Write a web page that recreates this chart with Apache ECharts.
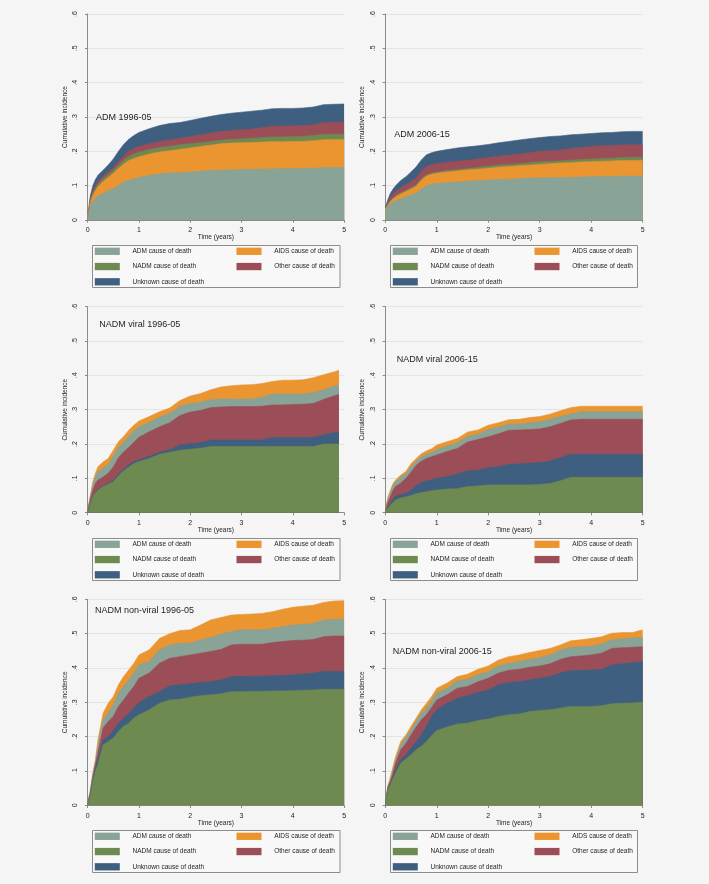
<!DOCTYPE html>
<html>
<head>
<meta charset="utf-8">
<script src="https://cdn.jsdelivr.net/npm/echarts@6/dist/echarts.min.js"></script>
<style>
  html, body { margin: 0; padding: 0; background: #f5f5f5; }
  #chart { width: 709px; height: 884px; }
</style>
</head>
<body>
<div id="chart"></div>
<script>
// ---------- DATA (cumulative incidence; each array = upper edge of that cause's band in the stack) ----------
const T   = [0,0.05,0.1,0.15,0.2,0.3,0.4,0.5,0.6,0.7,0.8,0.9,1.0,1.2,1.4,1.6,1.8,2.0,2.2,2.4,2.6,2.8,3.0,3.2,3.4,3.6,3.8,4.0,4.2,4.4,4.6,4.8,5.0];
const T_C = [0,0.05,0.1,0.15,0.2,0.3,0.4,0.5,0.6,0.7,0.8,0.9,1.0,1.2,1.4,1.6,1.8,2.0,2.2,2.4,2.6,2.8,3.0,3.2,3.4,3.6,3.8,4.0,4.2,4.4,4.6,4.8,4.9];

const causeNames = ['ADM cause of death','AIDS cause of death','NADM cause of death','Other cause of death','Unknown cause of death'];

// Panel A: ADM 1996-05 (stack bottom->top: ADM, AIDS, NADM, Other, Unknown)
const A_adm   = [0.01,0.04,0.055,0.063,0.07,0.078,0.086,0.092,0.101,0.11,0.116,0.12,0.124,0.13,0.134,0.137,0.138,0.14,0.142,0.144,0.145,0.146,0.147,0.148,0.148,0.149,0.149,0.15,0.15,0.151,0.152,0.153,0.153];
const A_aids  = [0.01,0.05,0.072,0.085,0.097,0.112,0.124,0.136,0.15,0.163,0.173,0.179,0.184,0.192,0.198,0.202,0.206,0.21,0.214,0.218,0.222,0.224,0.225,0.226,0.227,0.228,0.228,0.229,0.229,0.231,0.234,0.234,0.234];
const A_nadm  = [0.01,0.055,0.078,0.092,0.104,0.12,0.132,0.144,0.16,0.174,0.185,0.192,0.197,0.205,0.211,0.215,0.219,0.222,0.225,0.229,0.232,0.235,0.236,0.238,0.24,0.242,0.242,0.243,0.244,0.246,0.25,0.25,0.25];
const A_other = [0.01,0.06,0.085,0.1,0.112,0.128,0.14,0.152,0.17,0.186,0.2,0.208,0.214,0.222,0.229,0.233,0.238,0.243,0.248,0.254,0.258,0.261,0.263,0.265,0.269,0.273,0.274,0.274,0.275,0.277,0.284,0.285,0.285];
const A_unk   = [0.01,0.07,0.1,0.118,0.13,0.145,0.16,0.178,0.2,0.22,0.235,0.246,0.255,0.266,0.275,0.281,0.284,0.29,0.296,0.302,0.307,0.311,0.314,0.317,0.32,0.324,0.325,0.325,0.326,0.329,0.336,0.337,0.338];

// Panel B: ADM 2006-15
const B_adm   = [0.03,0.04,0.047,0.052,0.056,0.062,0.068,0.073,0.078,0.09,0.1,0.104,0.106,0.109,0.111,0.113,0.115,0.116,0.118,0.119,0.12,0.122,0.123,0.123,0.124,0.124,0.125,0.126,0.127,0.127,0.128,0.128,0.128];
const B_aids  = [0.031,0.044,0.054,0.061,0.067,0.076,0.083,0.09,0.098,0.116,0.128,0.133,0.136,0.14,0.143,0.146,0.148,0.151,0.154,0.156,0.158,0.16,0.162,0.164,0.166,0.167,0.169,0.17,0.171,0.172,0.173,0.173,0.173];
const B_nadm  = [0.032,0.046,0.057,0.064,0.07,0.079,0.086,0.094,0.102,0.12,0.132,0.137,0.14,0.144,0.147,0.15,0.153,0.157,0.16,0.162,0.164,0.167,0.17,0.171,0.172,0.174,0.176,0.178,0.179,0.18,0.182,0.183,0.183];
const B_other = [0.033,0.052,0.066,0.075,0.083,0.094,0.103,0.112,0.122,0.142,0.156,0.161,0.164,0.168,0.171,0.174,0.178,0.182,0.186,0.189,0.192,0.196,0.2,0.202,0.204,0.208,0.211,0.214,0.216,0.217,0.219,0.219,0.219];
const B_unk   = [0.035,0.06,0.078,0.09,0.1,0.115,0.126,0.14,0.155,0.175,0.19,0.196,0.2,0.205,0.21,0.213,0.216,0.22,0.225,0.229,0.233,0.237,0.24,0.243,0.245,0.248,0.25,0.252,0.254,0.255,0.257,0.258,0.258];

// Panel C: NADM viral 1996-05 (stack bottom->top: NADM, Unknown, Other, ADM, AIDS)
const C_nadm  = [0.005,0.027,0.047,0.058,0.066,0.076,0.083,0.09,0.108,0.122,0.133,0.143,0.149,0.158,0.17,0.176,0.182,0.185,0.188,0.193,0.193,0.193,0.193,0.193,0.193,0.193,0.193,0.193,0.193,0.193,0.2,0.2,0.2];
const C_unk   = [0.005,0.027,0.048,0.06,0.068,0.078,0.086,0.094,0.113,0.128,0.139,0.149,0.154,0.164,0.176,0.183,0.198,0.201,0.204,0.212,0.212,0.212,0.212,0.212,0.212,0.219,0.219,0.219,0.219,0.219,0.227,0.233,0.233];
const C_other = [0.006,0.04,0.066,0.085,0.095,0.104,0.115,0.133,0.16,0.177,0.19,0.205,0.22,0.236,0.25,0.262,0.283,0.293,0.298,0.306,0.308,0.309,0.309,0.309,0.31,0.314,0.314,0.315,0.316,0.318,0.33,0.34,0.345];
const C_adm   = [0.006,0.045,0.08,0.105,0.119,0.13,0.14,0.165,0.19,0.206,0.222,0.238,0.25,0.263,0.279,0.29,0.31,0.318,0.322,0.33,0.331,0.331,0.331,0.331,0.336,0.346,0.346,0.346,0.346,0.35,0.358,0.368,0.372];
const C_aids  = [0.006,0.05,0.09,0.115,0.134,0.148,0.158,0.182,0.207,0.222,0.24,0.255,0.267,0.28,0.294,0.305,0.327,0.34,0.347,0.358,0.366,0.37,0.372,0.373,0.376,0.382,0.386,0.386,0.387,0.393,0.402,0.41,0.415];

// Panel D: NADM viral 2006-15
const D_nadm  = [0.005,0.014,0.022,0.03,0.037,0.043,0.046,0.05,0.056,0.058,0.061,0.064,0.066,0.069,0.07,0.076,0.078,0.081,0.081,0.081,0.081,0.081,0.082,0.085,0.093,0.103,0.103,0.103,0.103,0.103,0.103,0.103,0.103];
const D_unk   = [0.006,0.017,0.027,0.04,0.048,0.053,0.057,0.065,0.08,0.087,0.093,0.096,0.1,0.105,0.113,0.122,0.124,0.131,0.134,0.141,0.142,0.144,0.146,0.15,0.16,0.17,0.17,0.17,0.17,0.17,0.17,0.17,0.17];
const D_other = [0.008,0.03,0.047,0.065,0.076,0.086,0.1,0.118,0.138,0.15,0.158,0.163,0.168,0.178,0.187,0.206,0.213,0.221,0.23,0.24,0.241,0.242,0.244,0.25,0.26,0.27,0.272,0.272,0.272,0.272,0.272,0.272,0.272];
const D_adm   = [0.008,0.04,0.06,0.08,0.09,0.104,0.113,0.134,0.15,0.163,0.17,0.175,0.184,0.194,0.203,0.223,0.228,0.242,0.249,0.258,0.258,0.262,0.265,0.272,0.28,0.287,0.294,0.294,0.294,0.294,0.294,0.294,0.294];
const D_aids  = [0.008,0.045,0.066,0.085,0.095,0.11,0.12,0.143,0.158,0.172,0.18,0.186,0.197,0.207,0.216,0.235,0.241,0.255,0.262,0.271,0.272,0.277,0.28,0.287,0.297,0.306,0.31,0.31,0.31,0.31,0.31,0.31,0.31];

// Panel E: NADM non-viral 1996-05
const E_nadm  = [0.005,0.03,0.07,0.1,0.12,0.176,0.186,0.196,0.215,0.23,0.239,0.254,0.264,0.278,0.297,0.307,0.309,0.315,0.319,0.322,0.325,0.331,0.331,0.332,0.332,0.333,0.333,0.334,0.335,0.336,0.338,0.338,0.338];
const E_unk   = [0.005,0.034,0.077,0.11,0.135,0.191,0.2,0.218,0.239,0.254,0.268,0.283,0.299,0.317,0.331,0.348,0.351,0.354,0.358,0.36,0.365,0.375,0.375,0.376,0.376,0.377,0.378,0.38,0.382,0.385,0.39,0.39,0.39];
const E_other = [0.005,0.037,0.083,0.118,0.155,0.225,0.244,0.259,0.288,0.307,0.327,0.346,0.37,0.385,0.414,0.428,0.433,0.438,0.443,0.448,0.454,0.467,0.469,0.469,0.469,0.474,0.477,0.48,0.481,0.483,0.491,0.493,0.493];
const E_adm   = [0.005,0.04,0.089,0.125,0.176,0.249,0.268,0.293,0.327,0.346,0.365,0.385,0.409,0.419,0.453,0.467,0.472,0.472,0.482,0.489,0.499,0.506,0.511,0.511,0.511,0.516,0.52,0.525,0.527,0.53,0.54,0.542,0.542];
const E_aids  = [0.005,0.042,0.094,0.133,0.191,0.268,0.297,0.317,0.351,0.375,0.394,0.414,0.438,0.453,0.486,0.5,0.509,0.511,0.525,0.54,0.547,0.554,0.556,0.557,0.559,0.564,0.571,0.577,0.58,0.583,0.591,0.595,0.596];

// Panel F: NADM non-viral 2006-15
const F_nadm  = [0.005,0.046,0.06,0.078,0.094,0.123,0.135,0.147,0.162,0.172,0.186,0.203,0.218,0.228,0.237,0.239,0.247,0.251,0.259,0.264,0.266,0.273,0.276,0.278,0.283,0.288,0.288,0.288,0.29,0.296,0.297,0.298,0.3];
const F_unk   = [0.005,0.05,0.065,0.085,0.104,0.133,0.147,0.167,0.186,0.205,0.23,0.259,0.278,0.297,0.312,0.319,0.329,0.336,0.351,0.358,0.36,0.365,0.37,0.375,0.385,0.392,0.393,0.394,0.396,0.409,0.412,0.415,0.419];
const F_other = [0.005,0.053,0.07,0.095,0.123,0.162,0.18,0.205,0.228,0.249,0.264,0.285,0.307,0.322,0.341,0.346,0.36,0.37,0.385,0.393,0.396,0.402,0.406,0.412,0.425,0.433,0.435,0.438,0.443,0.457,0.459,0.46,0.462];
const F_adm   = [0.005,0.055,0.075,0.104,0.133,0.176,0.198,0.22,0.244,0.268,0.283,0.303,0.327,0.341,0.363,0.367,0.38,0.39,0.406,0.414,0.419,0.425,0.43,0.438,0.453,0.46,0.462,0.464,0.47,0.482,0.485,0.487,0.489];
const F_aids  = [0.005,0.057,0.084,0.113,0.142,0.186,0.205,0.23,0.254,0.278,0.297,0.317,0.341,0.356,0.375,0.382,0.396,0.406,0.423,0.433,0.438,0.445,0.451,0.457,0.467,0.479,0.482,0.486,0.491,0.501,0.503,0.503,0.511];

const panelTitles = ['ADM 1996-05','ADM 2006-15','NADM viral 1996-05','NADM viral 2006-15','NADM non-viral 1996-05','NADM non-viral 2006-15'];

// ---------- BUILD ----------
const COLORS = {
  'ADM cause of death': '#89a396',
  'AIDS cause of death': '#ea9530',
  'NADM cause of death': '#6e8a51',
  'Other cause of death': '#9c4e58',
  'Unknown cause of death': '#3f5f80'
};
const [ADM, AIDS, NADM, OTHER, UNK] = causeNames;
// bands listed bottom -> top; each band is drawn as an area from 0 up to its upper edge,
// with upper bands drawn first so lower bands paint over them (equivalent to a stacked area plot)
const panels = [
  { t: T,   bands: [[ADM, A_adm],[AIDS, A_aids],[NADM, A_nadm],[OTHER, A_other],[UNK, A_unk]] },
  { t: T,   bands: [[ADM, B_adm],[AIDS, B_aids],[NADM, B_nadm],[OTHER, B_other],[UNK, B_unk]] },
  { t: T_C, bands: [[NADM, C_nadm],[UNK, C_unk],[OTHER, C_other],[ADM, C_adm],[AIDS, C_aids]] },
  { t: T,   bands: [[NADM, D_nadm],[UNK, D_unk],[OTHER, D_other],[ADM, D_adm],[AIDS, D_aids]] },
  { t: T,   bands: [[NADM, E_nadm],[UNK, E_unk],[OTHER, E_other],[ADM, E_adm],[AIDS, E_aids]] },
  { t: T,   bands: [[NADM, F_nadm],[UNK, F_unk],[OTHER, F_other],[ADM, F_adm],[AIDS, F_aids]] }
];

const FONT = "'Liberation Sans', Arial, sans-serif";
const TXT = '#1e1e1e';
const AXC = '#8a8a8a';
const colLeft = [87.7, 385.3], colWidth = [256.4, 257.4];
const rowTop = [14, 306.7, 599.3], rowH = 206;
const titlePos = [[96,117.5],[394.3,135],[99.3,324.2],[396.7,359.3],[95,610.7],[392.7,651.7]];
const boxX = [92.5, 390.5], boxW = [247.5, 247];
const boxY = [245.5, 538.5, 830.5], boxH = 42;

const grids = [], xAxes = [], yAxes = [], series = [], titles = [], legends = [], graphics = [];

panels.forEach((p, i) => {
  const col = i % 2, row = Math.floor(i / 2);
  grids.push({ left: colLeft[col], top: rowTop[row], width: colWidth[col], height: rowH, outerBoundsMode: 'none', containLabel: false });
  xAxes.push({
    type: 'value', gridIndex: i, min: 0, max: 5, interval: 1, offset: 4,
    name: 'Time (years)', nameLocation: 'middle', nameGap: 9.5, nameMoveOverlap: false,
    nameTextStyle: { fontSize: 6.5, color: TXT, fontFamily: FONT, lineHeight: 8 },
    axisLine: { show: true, lineStyle: { color: AXC, width: 1 } },
    axisTick: { show: true, length: 2.7, lineStyle: { color: AXC, width: 1 } },
    axisLabel: { fontSize: 7, color: TXT, fontFamily: FONT, margin: 2.5, lineHeight: 8, formatter: v => String(v) },
    splitLine: { show: false }
  });
  yAxes.push({
    type: 'value', gridIndex: i, min: 0, max: 0.6, interval: 0.1, offset: 3.7,
    name: 'Cumulative incidence', nameLocation: 'middle', nameGap: 15, nameMoveOverlap: false,
    nameTextStyle: { fontSize: 6.5, color: TXT, fontFamily: FONT, lineHeight: 8 },
    axisLine: { show: true, lineStyle: { color: AXC, width: 1 } },
    axisTick: { show: true, length: 2.7, lineStyle: { color: AXC, width: 1 } },
    axisLabel: { fontSize: 7, color: TXT, fontFamily: FONT, rotate: 90, margin: 5, lineHeight: 8,
      formatter: v => { const k = Math.round(v * 10); return k === 0 ? '0' : '.' + k; } },
    splitLine: { show: true, lineStyle: { color: '#e4e4e4', width: 1 } }
  });
  // draw top band first
  p.bands.slice().reverse().forEach(([name, upper]) => {
    series.push({
      type: 'line', name, xAxisIndex: i, yAxisIndex: i,
      symbol: 'none', showSymbol: false, silent: true, animation: false,
      color: COLORS[name], itemStyle: { color: COLORS[name] },
      lineStyle: { width: 0.6, color: COLORS[name] },
      areaStyle: { color: COLORS[name], opacity: 1, origin: 'start' },
      data: p.t.map((x, n) => [x, upper[n]])
    });
  });
  titles.push({
    text: panelTitles[i], left: titlePos[i][0], top: titlePos[i][1] - 5.5, padding: 0,
    textStyle: { fontSize: 9, fontWeight: 'normal', color: TXT, fontFamily: FONT, lineHeight: 11 }
  });
  const bx = boxX[col], by = boxY[row];
  graphics.push({ type: 'rect', shape: { x: bx, y: by, width: boxW[col], height: boxH },
    style: { fill: '#f8f8f8', stroke: '#8c8c8c', lineWidth: 1 }, z: -10, silent: true });
  const common = { orient: 'vertical', top: by + 1.8, padding: 0, itemWidth: 25, itemHeight: 7.3, itemGap: 7.25,
    icon: 'rect', selectedMode: false,
    textStyle: { fontSize: 6.5, color: TXT, fontFamily: FONT, lineHeight: 8, padding: [0, 0, 0, 7.7] } };
  legends.push(Object.assign({}, common, { left: bx + 2.3, data: [ADM, NADM, UNK] }));
  legends.push(Object.assign({}, common, { left: bx + 144, data: [AIDS, OTHER] }));
});

const chart = echarts.init(document.getElementById('chart'), null, { renderer: 'canvas' });
chart.setOption({
  backgroundColor: '#f5f5f5',
  animation: false,
  title: titles,
  grid: grids,
  xAxis: xAxes,
  yAxis: yAxes,
  legend: legends,
  graphic: graphics,
  series
});
</script>
</body>
</html>
